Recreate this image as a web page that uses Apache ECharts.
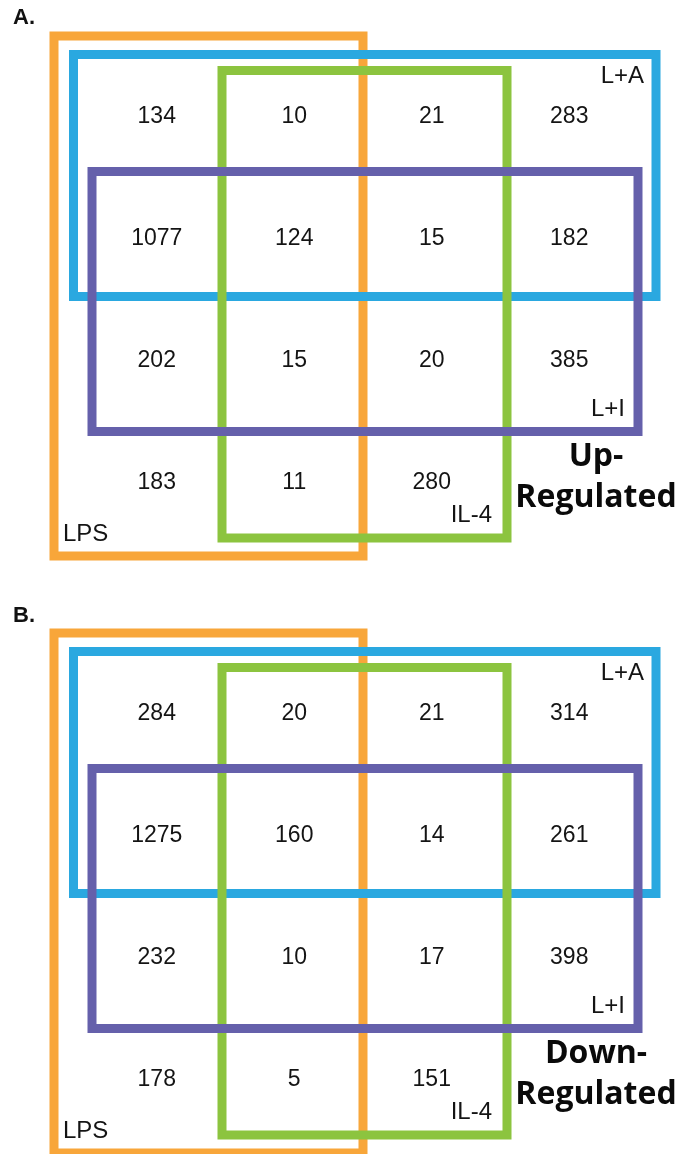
<!DOCTYPE html>
<html>
<head>
<meta charset="utf-8">
<style>
  html, body { margin: 0; padding: 0; background: #ffffff; }
  #chart { width: 679px; height: 1154px; }
</style>
<script src="https://cdn.jsdelivr.net/npm/echarts@6/dist/echarts.min.js"></script>
</head>
<body>
<div id="chart"></div>
<script>
// Gene counts per region of the four-set rectangle diagram (rows x columns).
// Row 0: L+A only, row 1: L+A and L+I, row 2: L+I only, row 3: neither.
// Col 0: LPS only, col 1: LPS and IL-4, col 2: IL-4 only, col 3: neither.
const upRegulated = [
  [134, 10, 21, 283],
  [1077, 124, 15, 182],
  [202, 15, 20, 385],
  [183, 11, 280, null]
];
const downRegulated = [
  [284, 20, 21, 314],
  [1275, 160, 14, 261],
  [232, 10, 17, 398],
  [178, 5, 151, null]
];

// Sets, in drawing order, with the column / row span [from, to) each covers.
const setNames = ['LPS', 'L+A', 'IL-4', 'L+I'];
const setColSpans = [[0, 2], [0, 4], [1, 3], [0, 4]];
const setRowSpans = [[0, 4], [0, 2], [0, 4], [1, 3]];

const panelLetters = ['A.', 'B.'];
const panelCaptions = ['Up-\nRegulated', 'Down-\nRegulated'];
const panelCounts = [upRegulated, downRegulated];

// ---- styling ----
const PANEL_SHIFT = 597;          // vertical distance between the two panels
const GRID = { left: 88, top: 56, width: 550, height: 488 };
const LINE_W = 9;
// pad: outward offset of each edge [left, right, top, bottom]; corner + inset place the label
const setStyles = [
  { color: '#F8A63A', pad: [34, 0, 20, 12],   corner: 'bl', inset: [9, 22] },
  { color: '#2AA8E0', pad: [14.5, 18, 1.5, -3.5], corner: 'tr', inset: [12, 21.5] },
  { color: '#8CC43F', pad: [3.5, 6.5, -14.5, -6], corner: 'br', inset: [15, 23] },
  { color: '#6560AB', pad: [-4, 0, 6.5, 9.5], corner: 'br', inset: [13, 22.5] }
];
const NUM_FONT = '23px "Liberation Sans", Arial, sans-serif';
const SET_FONT = '24px "Liberation Sans", Arial, sans-serif';
const TEXT_COLOR = '#141414';

const setData = setNames.map((n, i) => [
  setColSpans[i][0], setRowSpans[i][0], setColSpans[i][1], setRowSpans[i][1]
]);

function renderSet(params, api) {
  const i = params.dataIndex;
  const s = setStyles[i];
  const p0 = api.coord([api.value(0), api.value(1)]);
  const p1 = api.coord([api.value(2), api.value(3)]);
  const x0 = p0[0] - s.pad[0], x1 = p1[0] + s.pad[1];
  const y0 = p0[1] - s.pad[2], y1 = p1[1] + s.pad[3];
  let tx, ty, align;
  if (s.corner === 'tr') { tx = x1 - s.inset[0]; ty = y0 + s.inset[1]; align = 'right'; }
  else if (s.corner === 'br') { tx = x1 - s.inset[0]; ty = y1 - s.inset[1]; align = 'right'; }
  else { tx = x0 + s.inset[0]; ty = y1 - s.inset[1]; align = 'left'; }
  return {
    type: 'group',
    children: [
      {
        type: 'rect',
        shape: { x: x0, y: y0, width: x1 - x0, height: y1 - y0 },
        style: { fill: 'none', stroke: s.color, lineWidth: LINE_W, lineJoin: 'miter' }
      },
      {
        type: 'text',
        x: tx, y: ty,
        style: { text: setNames[i], font: SET_FONT, fill: TEXT_COLOR, align: align, verticalAlign: 'middle' }
      }
    ]
  };
}

function renderCount(params, api) {
  const p = api.coord([api.value(0), api.value(1)]);
  return {
    type: 'text',
    x: p[0], y: p[1],
    style: { text: String(api.value(2)), font: NUM_FONT, fill: TEXT_COLOR, align: 'center', verticalAlign: 'middle' }
  };
}

function cellData(counts) {
  const out = [];
  counts.forEach((row, r) => row.forEach((v, c) => {
    if (v !== null) out.push([c + 0.5, r + 0.5, v]);
  }));
  return out;
}

const grids = [], xAxes = [], yAxes = [], series = [], graphics = [];
panelCounts.forEach((counts, k) => {
  const dy = k * PANEL_SHIFT;
  grids.push({ left: GRID.left, top: GRID.top + dy, width: GRID.width, height: GRID.height, show: false });
  xAxes.push({ gridIndex: k, type: 'value', min: 0, max: 4, show: false });
  yAxes.push({ gridIndex: k, type: 'value', min: 0, max: 4, inverse: true, show: false });
  series.push({
    type: 'custom', xAxisIndex: k, yAxisIndex: k, silent: true,
    renderItem: renderSet, data: setData, encode: { x: [0, 2], y: [1, 3] }
  });
  series.push({
    type: 'custom', xAxisIndex: k, yAxisIndex: k, silent: true, z: 5,
    renderItem: renderCount, data: cellData(counts), encode: { x: 0, y: 1 }
  });
  graphics.push({
    type: 'text', x: 13, y: 18 + dy + (k ? 1 : 0),
    style: { text: panelLetters[k], font: 'bold 22px "Liberation Sans", Arial, sans-serif', fill: '#111', verticalAlign: 'middle' }
  });
  graphics.push({
    type: 'text', x: 596, y: 436 + dy,
    style: {
      text: panelCaptions[k], font: 'bold 32px "Open Sans", sans-serif', fill: '#0a0a0a',
      align: 'center', verticalAlign: 'top', lineHeight: 41
    }
  });
});

const chart = echarts.init(document.getElementById('chart'), null, { renderer: 'canvas' });
chart.setOption({
  backgroundColor: '#ffffff',
  animation: false,
  grid: grids,
  xAxis: xAxes,
  yAxis: yAxes,
  series: series,
  graphic: graphics
});
</script>
</body>
</html>
